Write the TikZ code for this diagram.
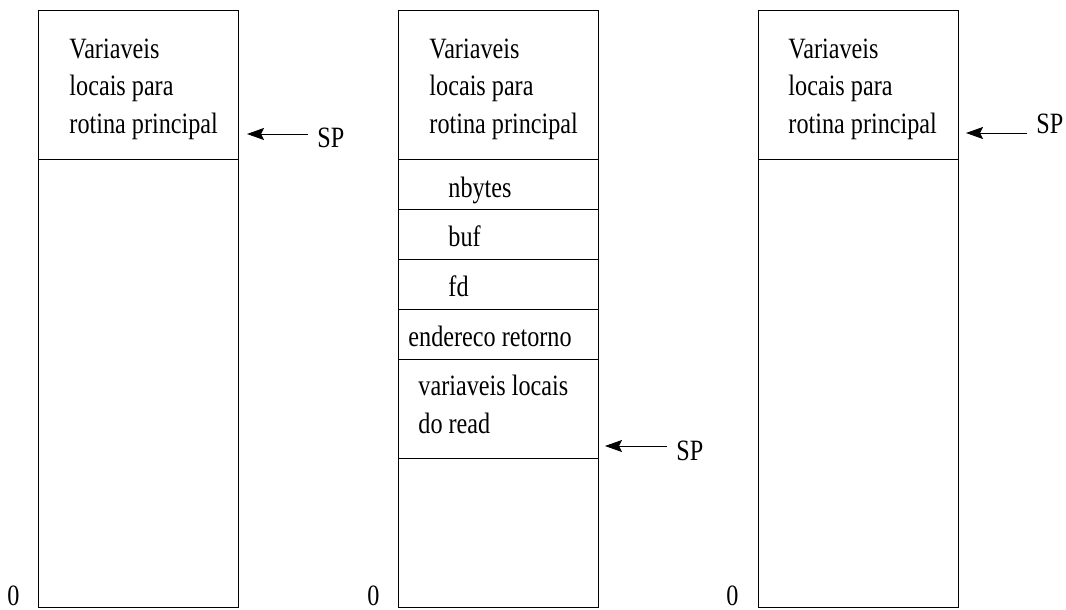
\documentclass[tikz,border=0pt]{standalone}
\usepackage{fontspec}
\setmainfont[FakeStretch=0.82]{Liberation Serif}
\usetikzlibrary{positioning,arrows.meta}

\begin{document}
\begin{tikzpicture}[x=1pt,y=-1pt,line width=0.9pt,
                    font=\fontsize{29.5}{37.5}\selectfont,
                    >={Stealth[inset=3pt,length=17pt,width=12pt]},
                    cell/.style={draw,rectangle,anchor=north west,minimum width=200pt,inner sep=0pt,outer sep=0pt},
                    txt/.style={anchor=base west,inner sep=0pt,align=left},
                    sp/.style={anchor=base west,inner sep=0pt,inner xsep=9pt},
                    ptr/.style={->}
                   ]
  \useasboundingbox (0,0) rectangle (1066,610);

  % pilha antes da chamada
  \node[cell,minimum height=149pt] (a1) at (38,10) {};
  \node[cell,minimum height=448pt] (a2) at (38,159) {};
  \node[txt] (ta) at (69,133) {Variaveis\\locais para\\rotina principal};
  \node[anchor=base east,inner sep=0pt] (za) at (20,605) {0};
  \node[sp] (spa) at (308,147) {SP};
  \coordinate (pa) at (247,134);
  \draw[ptr] (spa.west |- pa) -- (pa);

  % pilha durante o read
  \node[cell,minimum height=149pt] (b1) at (398,10) {};
  \node[cell,minimum height=50pt] (b2) at (398,159) {};
  \node[cell,minimum height=50pt] (b3) at (398,209) {};
  \node[cell,minimum height=50pt] (b4) at (398,259) {};
  \node[cell,minimum height=50pt] (b5) at (398,309) {};
  \node[cell,minimum height=99pt] (b6) at (398,359) {};
  \node[cell,minimum height=149pt] (b7) at (398,458) {};
  \node[txt] (tb1) at (429,133) {Variaveis\\locais para\\rotina principal};
  \node[txt] (tb2) at (448,197) {nbytes};
  \node[txt] (tb3) at (448,246) {buf};
  \node[txt] (tb4) at (448,296) {fd};
  \node[txt] (tb5) at (408,346) {endereco retorno};
  \node[txt] (tb6) at (418,433) {variaveis locais\\do read};
  \node[anchor=base east,inner sep=0pt] (zb) at (380,605) {0};
  \node[sp] (spb) at (667,460) {SP};
  \coordinate (pb) at (605,446);
  \draw[ptr] (spb.west |- pb) -- (pb);

  % pilha depois do retorno
  \node[cell,minimum height=149pt] (c1) at (758,10) {};
  \node[cell,minimum height=448pt] (c2) at (758,159) {};
  \node[txt] (tc) at (788,133) {Variaveis\\locais para\\rotina principal};
  \node[anchor=base east,inner sep=0pt] (zc) at (739,605) {0};
  \node[sp] (spc) at (1027,133) {SP};
  \coordinate (pc) at (966,133);
  \draw[ptr] (spc.west |- pc) -- (pc);
\end{tikzpicture}
\end{document}
